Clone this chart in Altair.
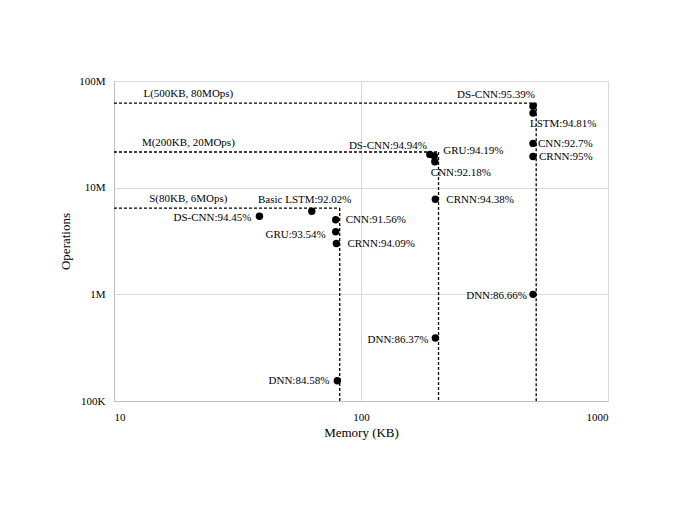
import altair as alt
import pandas as pd

# ---- data ----
LABELS = ["DNN:84.58%", "CNN:91.56%", "Basic LSTM:92.02%", "GRU:93.54%", "CRNN:94.09%", "DS-CNN:94.45%",
          "DNN:86.37%", "CNN:92.18%", "GRU:94.19%", "CRNN:94.38%", "DS-CNN:94.94%",
          "DNN:86.66%", "CNN:92.7%", "LSTM:94.81%", "CRNN:95%", "DS-CNN:95.39%"]
MEMORY_KB = [80.2, 79.0, 63.2, 79.0, 79.5, 38.8,
             200, 199, 198, 200, 190,
             497, 497, 497, 497, 497]
OPS = [155e3, 5.0e6, 6.0e6, 3.86e6, 3.0e6, 5.4e6,
       390e3, 17.5e6, 19.8e6, 7.8e6, 20.5e6,
       1.0e6, 26e6, 50e6, 19.6e6, 58e6]

LIMIT_NAMES = ["S(80KB, 6MOps)", "M(200KB, 20MOps)", "L(500KB, 80MOps)"]
LIMIT_MEM = [82, 206, 512]
LIMIT_OPS = [6.43e6, 21.6e6, 62e6]

X_TICKS = [10, 100, 1000]
Y_TICKS = [1e5, 1e6, 1e7, 1e8]
Y_TICK_LABELS = ["100K", "1M", "10M", "100M"]

# label placement (style): align, dx, dy per point label
LABEL_STYLE = {
    "DNN:84.58%": ("right", -8, 0),
    "CNN:91.56%": ("left", 10, 0),
    "Basic LSTM:92.02%": ("center", -7, -11),
    "GRU:93.54%": ("right", -10, 3),
    "CRNN:94.09%": ("left", 11, 1),
    "DS-CNN:94.45%": ("right", -8, 2),
    "DNN:86.37%": ("right", -7, 2),
    "CNN:92.18%": ("left", -4, 11),
    "GRU:94.19%": ("left", 9, -5),
    "CRNN:94.38%": ("left", 11, 1),
    "DS-CNN:94.94%": ("right", -3, -8),
    "DNN:86.66%": ("right", -6, 2),
    "CNN:92.7%": ("left", 5, 1),
    "LSTM:94.81%": ("left", -3, 11),
    "CRNN:95%": ("left", 6, 1),
    "DS-CNN:95.39%": ("right", 2, -11),
}

FONT = "Liberation Serif"

points = pd.DataFrame({"label": LABELS, "mem": MEMORY_KB, "ops": OPS})
limits = pd.DataFrame({"name": LIMIT_NAMES, "mem": LIMIT_MEM, "ops": LIMIT_OPS,
                       "left": [X_TICKS[0]] * 3, "bottom": [Y_TICKS[0]] * 3,
                       "labx": [20] * 3})

xscale = alt.Scale(type="log", domain=[X_TICKS[0], X_TICKS[-1]], nice=False)
yscale = alt.Scale(type="log", domain=[Y_TICKS[0], Y_TICKS[-1]], nice=False)

label_expr = " : ".join(
    [f"datum.value < {v * 1.5:g} ? '{t}'" for v, t in zip(Y_TICKS[:-1], Y_TICK_LABELS[:-1])]
) + f" : '{Y_TICK_LABELS[-1]}'"

axis_style = dict(
    grid=True, gridColor="#d9d9d9", gridWidth=1,
    domainColor="#bfbfbf", domainWidth=1,
    ticks=False, tickSize=0,
    labelFont=FONT, labelFontSize=11, labelColor="black",
    titleFont=FONT, titleFontSize=13, titleFontWeight="normal", titleColor="black",
)
xaxis = alt.Axis(values=X_TICKS, title="Memory (KB)", format="d",
                 labelPadding=10, titlePadding=4, **axis_style)
yaxis = alt.Axis(values=Y_TICKS, title="Operations", labelExpr=label_expr,
                 labelPadding=9, titlePadding=6, **axis_style)


def X(field):
    return alt.X(field, type="quantitative", scale=xscale, axis=xaxis)


def Y(field):
    return alt.Y(field, type="quantitative", scale=yscale, axis=yaxis)


pts = alt.Chart(points).mark_circle(size=55, color="black", opacity=1).encode(
    x=X("mem"), y=Y("ops"),
)

hrules = alt.Chart(limits).mark_rule(color="black", strokeDash=[3, 2], strokeWidth=1.3).encode(
    x=X("left"), x2="mem:Q", y=Y("ops"),
)
vrules = alt.Chart(limits).mark_rule(color="black", strokeDash=[3, 2], strokeWidth=1.3).encode(
    x=X("mem"), y=Y("ops"), y2="bottom:Q",
)
limit_text = alt.Chart(limits).mark_text(font=FONT, fontSize=11, color="black",
                                          align="center", baseline="middle", dy=-9).encode(
    x=X("labx"), y=Y("ops"), text="name:N",
)

text_layers = []
for lab in LABELS:
    a, dx, dy = LABEL_STYLE[lab]
    text_layers.append(
        alt.Chart(points).transform_filter(alt.datum.label == lab).mark_text(
            font=FONT, fontSize=11, color="black", align=a, baseline="middle", dx=dx, dy=dy
        ).encode(
            x=X("mem"), y=Y("ops"), text="label:N",
        )
    )

chart = alt.layer(hrules, vrules, pts, limit_text, *text_layers).properties(
    width=494, height=320,
    background="white",
    autosize=alt.AutoSizeParams(type="none"),
    padding={"left": 106, "top": 73, "right": 61, "bottom": 114},
).configure_axis(**axis_style).configure_view(stroke=None)

chart.save("out.html", embed_options={"renderer": "svg", "actions": False})
